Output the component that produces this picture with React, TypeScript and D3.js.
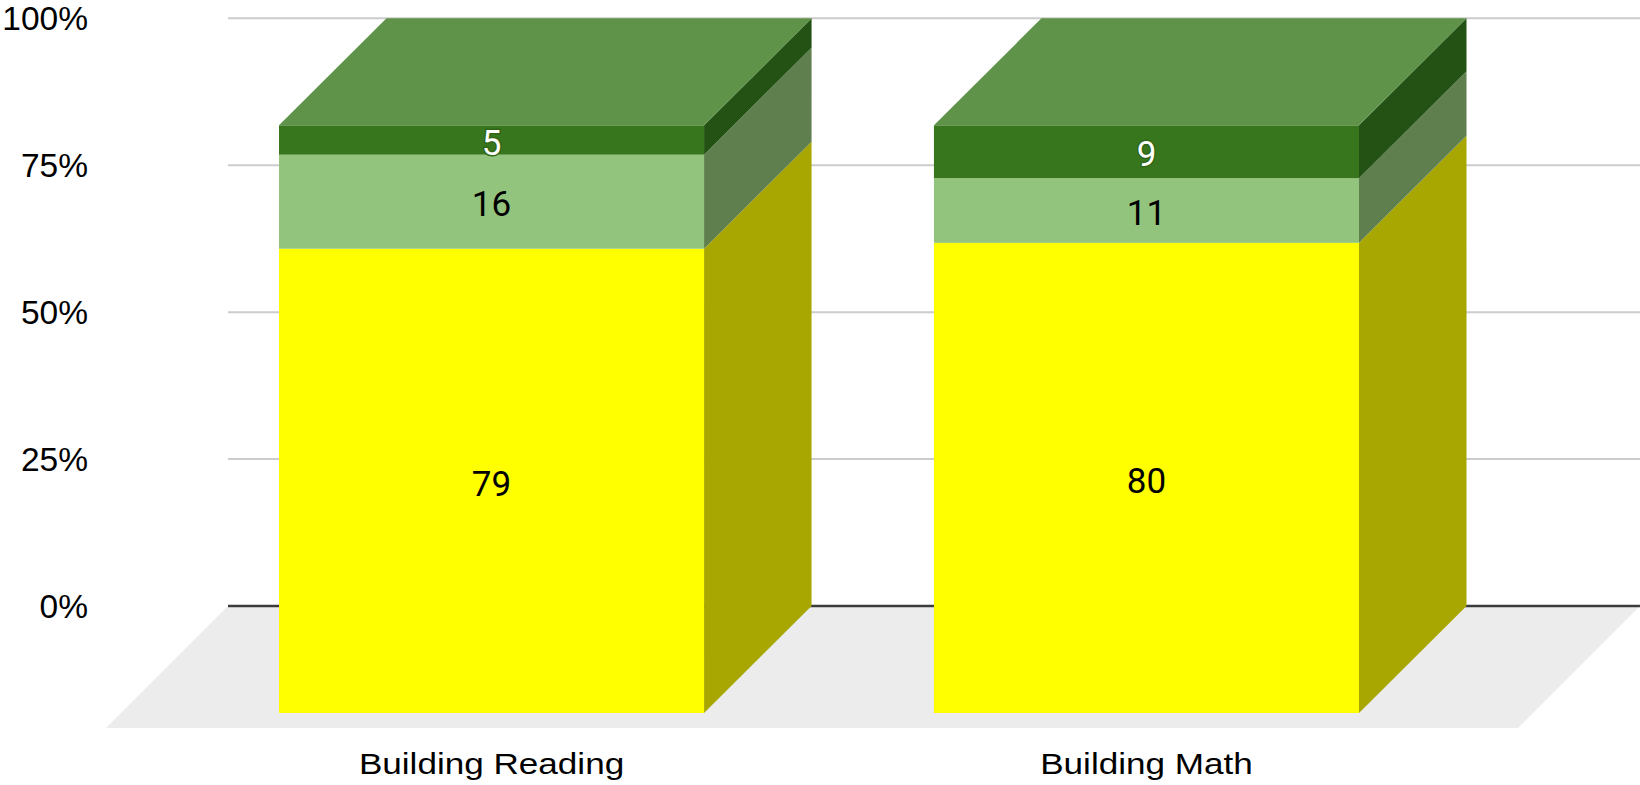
import * as d3 from 'd3';
import React from 'react';

const categories = ['Building Reading', 'Building Math'];
const seriesNames = ['Series 1', 'Series 2', 'Series 3'];
const readingValues = [79, 16, 5];
const mathValues = [80, 11, 9];
const tickValues = [0, 0.25, 0.5, 0.75, 1];

const frontColors = ['#ffff00', '#93c47d', '#38761d'];
const sideColors = ['#a8a600', '#5f7f4f', '#245214'];
const topColor = '#5f934a';
const labelColors = ['#000000', '#000000', '#ffffff'];

const width = 1640;
const height = 785;

const App: React.FC = () => {
  const rows = categories.map((c, i) => {
    const vals = i === 0 ? readingValues : mathValues;
    const row: Record<string, any> = { category: c };
    seriesNames.forEach((s, j) => (row[s] = vals[j]));
    return row;
  });

  const stacked = d3
    .stack<Record<string, any>>()
    .keys(seriesNames)
    .offset(d3.stackOffsetExpand)(rows);

  // back wall: 0 at the floor line, 1 at top gridline
  const yScale = d3.scaleLinear().domain([0, 1]).range([606, 18.3]);
  const plotLeft = 228;
  const plotRight = width;
  const depthX = 107.5;
  const depthY = 107;
  const floorDepth = 122;

  // bars are positioned on the front plane
  const xScale = d3
    .scaleBand<string>()
    .domain(categories)
    .range([279, 1359])
    .paddingInner(0.351)
    .paddingOuter(0);

  const fy = (v: number) => yScale(v) + depthY;
  const pct = d3.format('.0%');
  const y0 = yScale(0);

  const floor = [
    [plotLeft, y0],
    [plotRight, y0],
    [plotRight - floorDepth, y0 + floorDepth],
    [plotLeft - floorDepth, y0 + floorDepth],
  ]
    .map((p) => p.join(','))
    .join(' ');

  return (
    <svg
      width={width}
      height={height}
      style={{ position: 'absolute', left: 0, top: 0, background: '#fff' }}
    >
      <polygon points={floor} fill="#ececec" />

      {tickValues
        .filter((t) => t > 0)
        .map((t) => (
          <line
            key={`grid-${t}`}
            x1={plotLeft}
            x2={plotRight}
            y1={yScale(t)}
            y2={yScale(t)}
            stroke="#cccccc"
            strokeWidth={2}
          />
        ))}
      <line x1={plotLeft} x2={plotRight} y1={y0} y2={y0} stroke="#3c3c3c" strokeWidth={2.5} />

      {tickValues.map((t) => (
        <text
          key={`tick-${t}`}
          x={88}
          y={yScale(t)}
          dy="0.35em"
          textAnchor="end"
          fontFamily="'Liberation Sans', Arial, sans-serif"
          fontSize={33.5}
          fill="#000"
        >
          {pct(t)}
        </text>
      ))}

      {categories.map((c, ci) => {
        const xl = xScale(c) ?? 0;
        const xr = xl + xScale.bandwidth();
        return (
          <g key={c}>
            {stacked.map((layer, si) => {
              const [a, b] = layer[ci];
              const side = [
                [xr, fy(a)],
                [xr, fy(b)],
                [xr + depthX, fy(b) - depthY],
                [xr + depthX, fy(a) - depthY],
              ]
                .map((p) => p.join(','))
                .join(' ');
              return (
                <g key={layer.key}>
                  <polygon points={side} fill={sideColors[si]} />
                  <rect
                    x={xl}
                    y={fy(b)}
                    width={xr - xl}
                    height={fy(a) - fy(b)}
                    fill={frontColors[si]}
                  />
                </g>
              );
            })}
            {(() => {
              const top = stacked[stacked.length - 1][ci][1];
              const pts = [
                [xl, fy(top)],
                [xr, fy(top)],
                [xr + depthX, fy(top) - depthY],
                [xl + depthX, fy(top) - depthY],
              ]
                .map((p) => p.join(','))
                .join(' ');
              return <polygon points={pts} fill={topColor} />;
            })()}
            {stacked.map((layer, si) => {
              const [a, b] = layer[ci];
              const raw = rows[ci][layer.key as string];
              const white = labelColors[si] === '#ffffff';
              return (
                <text
                  key={`lbl-${layer.key}`}
                  x={(xl + xr) / 2}
                  y={(fy(a) + fy(b)) / 2}
                  dy="0.42em"
                  textAnchor="middle"
                  fontFamily="Roboto, 'Noto Sans', sans-serif"
                  fontSize={35}
                  fill={labelColors[si]}
                  stroke={white ? '#2f6618' : 'none'}
                  strokeWidth={white ? 3 : 0}
                  paintOrder="stroke"
                >
                  {raw}
                </text>
              );
            })}
            <text
              transform={`translate(${(xl + xr) / 2},774) scale(1.19,1)`}
              textAnchor="middle"
              fontFamily="'Liberation Sans', Arial, sans-serif"
              fontSize={29.5}
              fill="#000"
            >
              {c}
            </text>
          </g>
        );
      })}
    </svg>
  );
};

export default App;
